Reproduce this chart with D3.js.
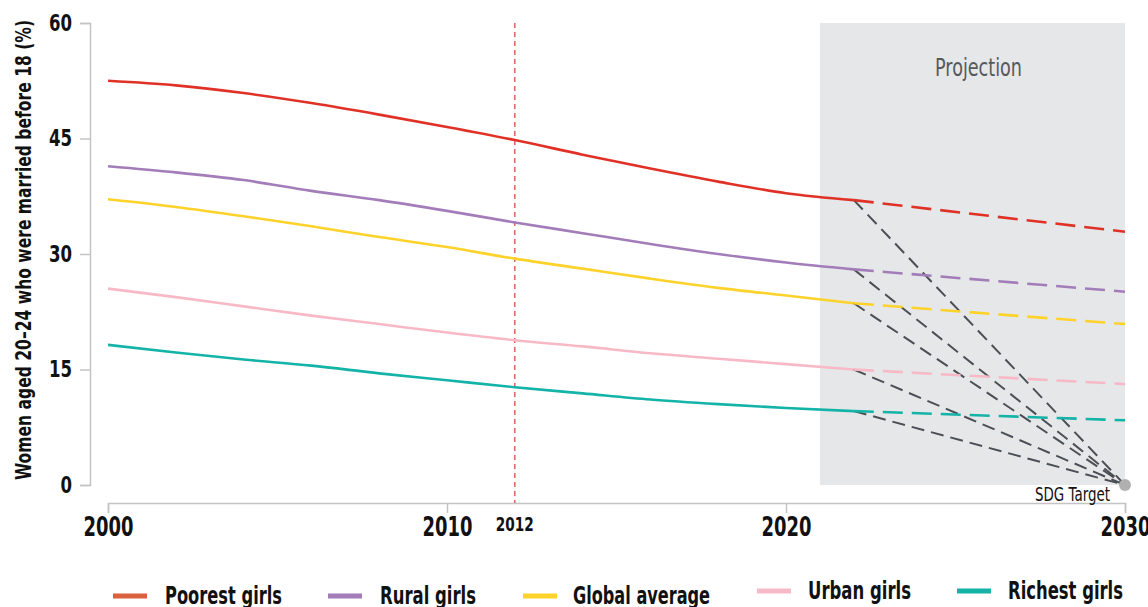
<!DOCTYPE html>
<html><head><meta charset="utf-8">
<script src="https://cdn.jsdelivr.net/npm/d3@7"></script>
<style>
body{margin:0;background:#fff;}
text{font-family:"DejaVu Sans",sans-serif;}
</style></head>
<body><svg id="c" width="1148" height="607"></svg>
<script>
const years = [2000, 2002, 2004, 2006, 2008, 2010, 2012, 2014, 2016, 2018, 2020, 2022];
const projYears = [2022, 2030];
const seriesNames = ["Poorest girls", "Rural girls", "Global average", "Urban girls", "Richest girls"];
const poorest = [52.5, 51.9, 50.9, 49.6, 48.1, 46.5, 44.8, 42.9, 41.1, 39.4, 37.9, 37.0];
const rural   = [41.4, 40.6, 39.6, 38.2, 37.0, 35.6, 34.1, 32.7, 31.3, 30.0, 28.9, 28.0];
const global  = [37.1, 36.1, 34.9, 33.6, 32.2, 30.9, 29.4, 28.1, 26.8, 25.6, 24.6, 23.6];
const urban   = [25.5, 24.4, 23.2, 22.0, 20.9, 19.8, 18.8, 18.0, 17.1, 16.4, 15.7, 15.0];
const richest = [18.2, 17.2, 16.3, 15.5, 14.5, 13.6, 12.7, 11.9, 11.1, 10.5, 10.0, 9.6];
const poorestProj = [37.0, 32.9];
const ruralProj   = [28.0, 25.1];
const globalProj  = [23.6, 20.9];
const urbanProj   = [15.0, 13.1];
const richestProj = [9.6, 8.4];
const yTicks = [0, 15, 30, 45, 60];
const xTicks = [2000, 2010, 2020, 2030];
const markerYear = 2012;
const projStart = 2021;
const sdgTarget = 0;

const colors = ["#e03127", "#a27db9", "#fdd22b", "#f8b9c7", "#13b3a8"];
const legendColors = ["#d9613d", "#a27db9", "#fdd22b", "#f8b9c7", "#13b3a8"];
const hist = [poorest, rural, global, urban, richest];
const proj = [poorestProj, ruralProj, globalProj, urbanProj, richestProj];

function squeeze(sel, f) {
  sel.each(function () {
    const w = this.getComputedTextLength();
    d3.select(this).attr("textLength", w * f).attr("lengthAdjust", "spacingAndGlyphs");
  });
}
function fit(sel, w) {
  sel.attr("textLength", w).attr("lengthAdjust", "spacingAndGlyphs");
}

const svg = d3.select("#c");
const x = d3.scaleLinear().domain([2000, 2030]).range([108, 1125]);
const y = d3.scaleLinear().domain([0, 60]).range([485, 23]);

// projection band
svg.append("rect").attr("x", x(projStart)).attr("y", y(60))
  .attr("width", x(2030) - x(projStart)).attr("height", y(0) - y(60))
  .attr("fill", "#e6e7e8");
fit(svg.append("text").attr("x", 978.5).attr("y", 76)
  .attr("text-anchor", "middle").attr("font-size", 25).attr("fill", "#55595e")
  .text("Projection"), 87);

// y axis
const yAxis = svg.append("g").attr("transform", "translate(90,0)")
  .call(d3.axisLeft(y).tickValues(yTicks).tickSize(10).tickSizeOuter(10).tickPadding(8));
yAxis.selectAll("path,line").attr("stroke", "#c4c4c4").attr("stroke-width", 1.5);
yAxis.selectAll("text").attr("font-size", 23).attr("font-weight", "bold").attr("fill", "#111");
squeeze(yAxis.selectAll("text"), 0.72);

// x axis
const xAxis = svg.append("g").attr("transform", "translate(0,503)")
  .call(d3.axisBottom(x).tickValues(xTicks).tickFormat(d3.format("d")).tickSize(10).tickSizeOuter(10).tickPadding(5));
xAxis.selectAll("path,line").attr("stroke", "#c4c4c4").attr("stroke-width", 1.5);
xAxis.selectAll("text").attr("font-size", 26).attr("font-weight", "bold").attr("fill", "#111");
squeeze(xAxis.selectAll("text"), 0.69);

// 2012 marker
svg.append("line").attr("x1", x(markerYear)).attr("x2", x(markerYear))
  .attr("y1", y(60)).attr("y2", 503)
  .attr("stroke", "#e0625a").attr("stroke-width", 1.5).attr("stroke-dasharray", "5,4");
fit(svg.append("text").attr("x", x(markerYear)).attr("y", 531).attr("text-anchor", "middle")
  .attr("font-size", 20).attr("font-weight", "bold").attr("fill", "#111").text(markerYear), 38);

// y title
fit(svg.append("text").attr("transform", "translate(31,250) rotate(-90)")
  .attr("text-anchor", "middle").attr("font-size", 22).attr("font-weight", "bold").attr("fill", "#111")
  .text("Women aged 20–24 who were married before 18 (%)"), 460);

// historic lines
const line = d3.line().x((d, i) => x(years[i])).y(d => y(d)).curve(d3.curveMonotoneX);
const pline = d3.line().x((d, i) => x(projYears[i])).y(d => y(d));
hist.forEach((s, k) => {
  svg.append("path").attr("d", line(s)).attr("fill", "none")
    .attr("stroke", colors[k]).attr("stroke-width", 2.6);
});
// SDG target gray dashed lines
hist.forEach((s, k) => {
  svg.append("line").attr("x1", x(projYears[0])).attr("y1", y(proj[k][0]))
    .attr("x2", x(2030)).attr("y2", y(sdgTarget))
    .attr("stroke", "#4a4f55").attr("stroke-width", 2).attr("stroke-dasharray", "13,7");
});
// projected dashed lines
proj.forEach((s, k) => {
  svg.append("path").attr("d", pline(s)).attr("fill", "none")
    .attr("stroke", colors[k]).attr("stroke-width", 2.6).attr("stroke-dasharray", "20,9");
});
svg.append("circle").attr("cx", x(2030)).attr("cy", y(sdgTarget)).attr("r", 6).attr("fill", "#b0b0b0");
fit(svg.append("text").attr("x", 1110).attr("y", 501).attr("text-anchor", "end")
  .attr("font-size", 19).attr("fill", "#111").text("SDG Target"), 75);

// legend
const legX = [113, 328, 523, 757, 957];
const legTextX = [165, 380, 573, 808, 1008];
const legTextW = [117, 96, 137, 103, 115];
const legY = [596, 596, 596, 591, 591];
seriesNames.forEach((n, k) => {
  svg.append("line").attr("x1", legX[k]).attr("x2", legX[k] + 34)
    .attr("y1", legY[k]).attr("y2", legY[k])
    .attr("stroke", legendColors[k]).attr("stroke-width", 5);
  fit(svg.append("text").attr("x", legTextX[k]).attr("y", legY[k] + 8)
    .attr("font-size", 24).attr("font-weight", "bold").attr("fill", "#111").text(n), legTextW[k]);
});
</script></body></html>
